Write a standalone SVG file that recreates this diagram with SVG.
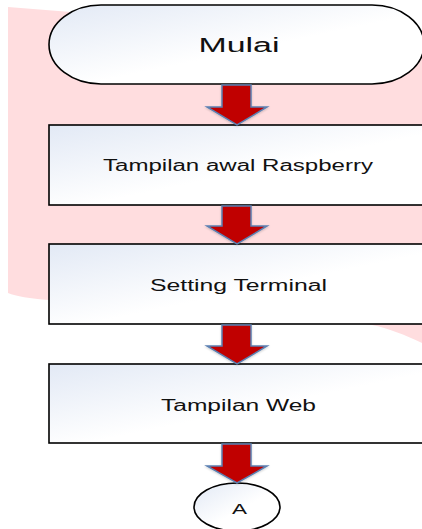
<svg xmlns="http://www.w3.org/2000/svg" width="422" height="529" viewBox="0 0 422 529">
<style>
.bg{fill:#FFDDDF;stroke:none}
.node{stroke:#000;stroke-width:1.6}
.arrow{fill:#C00000;stroke:#5B80B2;stroke-width:1.5;stroke-linejoin:miter}
.lbl{font-family:"Liberation Sans",Arial,sans-serif;fill:#111;text-anchor:middle}
</style>
<defs>
<linearGradient id="g" x1="0" y1="0" x2="1" y2="1">
<stop offset="0" stop-color="#E2E9F5"/>
<stop offset="0.55" stop-color="#FFFFFF"/>
<stop offset="1" stop-color="#FFFFFF"/>
</linearGradient>
<filter id="sh" x="-20%" y="-20%" width="140%" height="140%">
<feGaussianBlur in="SourceAlpha" stdDeviation="1"/>
<feOffset dx="0" dy="1" result="b"/>
<feComponentTransfer><feFuncA type="linear" slope="0.2"/></feComponentTransfer>
<feMerge><feMergeNode/><feMergeNode in="SourceGraphic"/></feMerge>
</filter>
</defs>
<rect width="422" height="529" fill="#FFFFFF"/>
<path class="bg" d="M8,7 L422,40 L422,343 C405,335 388,328 372,325 C280,310 120,302 49,300 Q20,298 8,293 Z"/>
<g id="start">
<rect class="node" x="49" y="5" width="375" height="79" rx="52" ry="39.5" fill="url(#g)"/>
<text class="lbl" x="239" y="52" font-size="20" textLength="81" lengthAdjust="spacingAndGlyphs">Mulai</text>
</g>
<g id="box1">
<rect class="node" x="49" y="125" width="382" height="80" fill="url(#g)"/>
<text class="lbl" x="238" y="171" font-size="16" textLength="270" lengthAdjust="spacingAndGlyphs">Tampilan awal Raspberry</text>
</g>
<g id="box2">
<rect class="node" x="49" y="244" width="382" height="80" fill="url(#g)"/>
<text class="lbl" x="238.5" y="291" font-size="16" textLength="177" lengthAdjust="spacingAndGlyphs">Setting Terminal</text>
</g>
<g id="box3">
<rect class="node" x="49" y="364" width="382" height="79" fill="url(#g)"/>
<text class="lbl" x="238.5" y="411" font-size="16" textLength="155" lengthAdjust="spacingAndGlyphs">Tampilan Web</text>
</g>
<g id="connA">
<ellipse class="node" cx="237" cy="507" rx="43" ry="24" fill="url(#g)"/>
<text class="lbl" x="239.5" y="514" font-size="14" textLength="15" lengthAdjust="spacingAndGlyphs">A</text>
</g>
<g id="connectors" filter="url(#sh)">
<polygon class="arrow" points="222,85 251,85 251,107 267,107 237,125 207,107 222,107"/>
<polygon class="arrow" points="222,206 251,206 251,226 267,226 237,244 207,226 222,226"/>
<polygon class="arrow" points="222,325 251,325 251,346 267,346 237,364 207,346 222,346"/>
<polygon class="arrow" points="222,444 251,444 251,466 267,466 237,483 207,466 222,466"/>
</g>
</svg>
